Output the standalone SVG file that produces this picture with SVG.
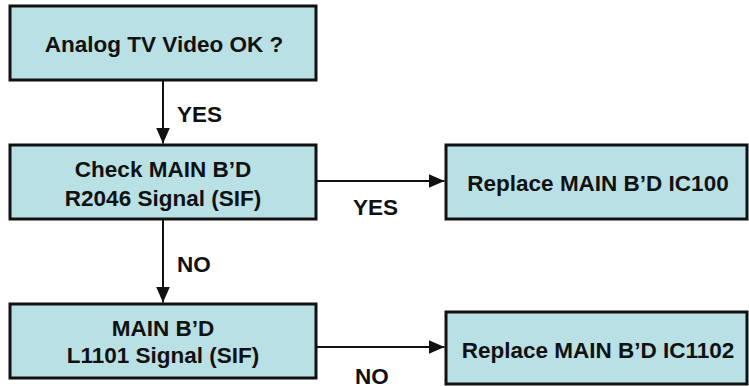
<svg xmlns="http://www.w3.org/2000/svg" width="749" height="386" viewBox="0 0 749 386">
<style>
.box{fill:#B9E0E4;stroke:#111;stroke-width:3}
.t{font-family:"Liberation Sans",Arial,sans-serif;font-weight:bold;font-size:22.5px;fill:#111;text-anchor:middle}
.lbl{font-family:"Liberation Sans",Arial,sans-serif;font-weight:bold;font-size:22.5px;fill:#111}
.c{stroke:#111;stroke-width:2;fill:none;marker-end:url(#ah)}
</style>
<defs>
<marker id="ah" markerUnits="userSpaceOnUse" markerWidth="16" markerHeight="14" refX="16" refY="7" orient="auto">
<path d="M0,0 L16,7 L0,14 Z" fill="#111"/>
</marker>
</defs>
<rect width="749" height="386" fill="#fff"/>
<g id="connectors">
<line class="c" x1="163" y1="81" x2="163" y2="143.5"/>
<line class="c" x1="163" y1="220" x2="163" y2="302.5"/>
<line class="c" x1="317" y1="181" x2="444.5" y2="181"/>
<line class="c" x1="317" y1="347" x2="444.5" y2="347"/>
<text class="lbl" x="177" y="122">YES</text>
<text class="lbl" x="177" y="272">NO</text>
<text class="lbl" x="353" y="215">YES</text>
<text class="lbl" x="355" y="384">NO</text>
</g>
<g id="n1">
<rect class="box" x="10" y="6" width="306" height="74"/>
<text class="t" x="164" y="51.5">Analog TV Video OK ?</text>
</g>
<g id="n2">
<rect class="box" x="10" y="145" width="306" height="74"/>
<text class="t" x="163" y="177">Check MAIN B’D</text>
<text class="t" x="163" y="206">R2046 Signal (SIF)</text>
</g>
<g id="n3">
<rect class="box" x="10" y="304" width="306" height="74"/>
<text class="t" x="163" y="336">MAIN B’D</text>
<text class="t" x="163" y="363">L1101 Signal (SIF)</text>
</g>
<g id="n4">
<rect class="box" x="446" y="145" width="301" height="74"/>
<text class="t" x="598" y="191">Replace MAIN B’D IC100</text>
</g>
<g id="n5">
<rect class="box" x="446" y="312" width="301" height="72"/>
<text class="t" x="598" y="358">Replace MAIN B’D IC1102</text>
</g>
</svg>
